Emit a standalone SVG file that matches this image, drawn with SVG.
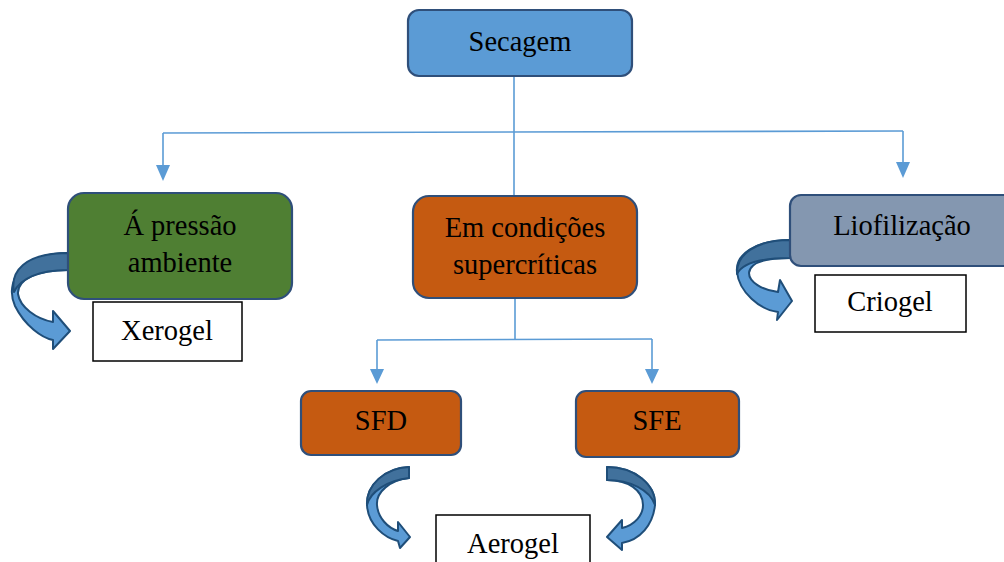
<svg xmlns="http://www.w3.org/2000/svg" width="1004" height="562" viewBox="0 0 1004 562">
<style>
.box{stroke:#2f4f7a;stroke-width:2.2}
.plain{fill:#fff;stroke:#000;stroke-width:1.5}
.t{font-family:"Liberation Serif",serif;font-size:28.5px;fill:#000;text-anchor:middle}
.c{fill:none;stroke:#5b9bd5;stroke-width:1.6}
.ar{fill:#5b9bd5}
.ca{fill:#5b9bd5;stroke:#1f4e79;stroke-width:2;stroke-linejoin:round}
.cd{fill:#41719c;stroke:#1f4e79;stroke-width:2;stroke-linejoin:round}
</style>
<g id="connectors">
<path class="c" d="M514,76 V196"/>
<path class="c" d="M163,133 L903,131"/>
<path class="c" d="M163,133 V170"/>
<path class="c" d="M903,131 V166"/>
<path class="ar" d="M156,165 L170,165 L163,181 Z"/>
<path class="ar" d="M896,162 L910,162 L903,178 Z"/>
<path class="c" d="M515,298 V339"/>
<path class="c" d="M377,340 L652,339"/>
<path class="c" d="M377,340 V372"/>
<path class="c" d="M652,339 V372"/>
<path class="ar" d="M370,369 L384,369 L377,384 Z"/>
<path class="ar" d="M645,369 L659,369 L652,384 Z"/>
</g>
<g id="arrow-xerogel">
<path class="ca" d="M68,253 C22,253 4,282 15,306 C25,326 42,338 53,340 L53,349 L70,331 L53,311 L53,322 C36,319 20,307 18,294 C17,280 35,270 68,270 Z"/>
<path class="cd" d="M68,253 C24,253 10,272 14,292 C20,279 38,270 68,270 Z"/>
</g>
<g id="arrow-criogel">
<path class="ca" d="M790,240 C755,240 735,255 737,272 C739,292 760,310 778,312 L777,320 L792,301 L780,280 L778,292 C762,290 749,282 749,273 C750,263 765,258 790,258 Z"/>
<path class="cd" d="M790,240 C755,240 736,255 737,274 C742,264 758,258 790,258 Z"/>
</g>
<g id="arrow-sfd">
<path class="ca" d="M409,467 C385,468 366,485 367,505 C368,525 385,538 398,541 L400,548 L410,537 L398,522 L398,531 C388,528 378,518 377,505 C376,492 390,480 409,478 Z"/>
<path class="cd" d="M409,467 C385,468 366,485 367,505 C370,492 388,480 409,478 Z"/>
</g>
<g id="arrow-sfe">
<path class="ca" d="M607,467 C635,467 656,485 655,505 C653,525 640,540 622,543 L622,550 L607,537 L622,520 L622,528 C635,525 643,515 643,505 C643,490 628,480 607,480 Z"/>
<path class="cd" d="M607,467 C635,467 656,485 655,505 C650,490 630,480 607,480 Z"/>
</g>
<g id="secagem">
<rect class="box" x="408" y="10" width="224" height="66" rx="11" fill="#5b9bd5"/>
<text class="t" x="520" y="51">Secagem</text>
</g>
<g id="pressao">
<rect class="box" x="68" y="193" width="224" height="106" rx="16" fill="#4f7f33"/>
<text class="t" x="180" y="235">Á pressão</text>
<text class="t" x="180" y="272">ambiente</text>
</g>
<g id="supercriticas">
<rect class="box" x="413" y="196" width="224" height="102" rx="16" fill="#c55a11"/>
<text class="t" x="525" y="237">Em condições</text>
<text class="t" x="525" y="274">supercríticas</text>
</g>
<g id="liofilizacao">
<rect class="box" x="790" y="195" width="230" height="71" rx="11" fill="#8497b0"/>
<text class="t" x="902" y="235">Liofilização</text>
</g>
<g id="xerogel">
<rect class="plain" x="93" y="302" width="149" height="59"/>
<text class="t" x="167" y="340">Xerogel</text>
</g>
<g id="criogel">
<rect class="plain" x="815" y="275" width="151" height="57"/>
<text class="t" x="890" y="311">Criogel</text>
</g>
<g id="sfd">
<rect class="box" x="301" y="391" width="160" height="64" rx="10" fill="#c55a11"/>
<text class="t" x="381" y="430">SFD</text>
</g>
<g id="sfe">
<rect class="box" x="576" y="391" width="163" height="66" rx="10" fill="#c55a11"/>
<text class="t" x="657" y="430">SFE</text>
</g>
<g id="aerogel">
<rect class="plain" x="436" y="515" width="154" height="60"/>
<text class="t" x="513" y="553">Aerogel</text>
</g>
</svg>
